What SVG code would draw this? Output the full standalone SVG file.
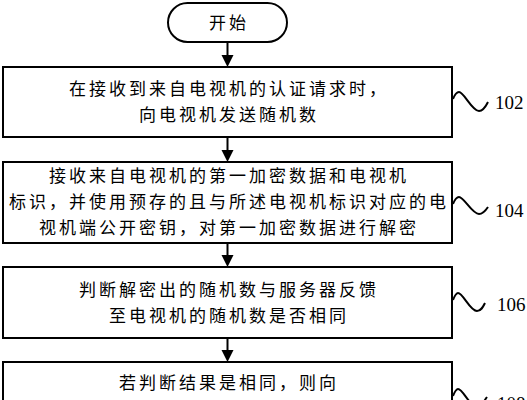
<svg xmlns="http://www.w3.org/2000/svg" width="527" height="400" viewBox="0 0 527 400">
<style>
.box{fill:#fff;stroke:#000;stroke-width:2}
.t{font-family:"Noto Sans CJK SC","Noto Sans",sans-serif;font-size:17px;letter-spacing:3px;text-anchor:middle;fill:#000}
.lbl{font-family:"Liberation Serif",serif;font-size:19px;fill:#000}
.sq{fill:none;stroke:#000;stroke-width:2}
.ln{stroke:#000;stroke-width:2}
</style>
<defs>
<polygon id="ah" points="-6,-12 6,-12 0,0" fill="#000"/>
</defs>
<rect width="527" height="400" fill="#fff"/>
<g id="connectors">
<line class="ln" x1="227.5" y1="42" x2="227.5" y2="56"/><use href="#ah" x="227.5" y="67"/>
<line class="ln" x1="227.5" y1="137" x2="227.5" y2="151"/><use href="#ah" x="227.5" y="162"/>
<line class="ln" x1="227.5" y1="243" x2="227.5" y2="256"/><use href="#ah" x="227.5" y="267"/>
<line class="ln" x1="227.5" y1="338" x2="227.5" y2="351"/><use href="#ah" x="227.5" y="362"/>
</g>
<g id="start">
<rect class="box" x="168" y="3" width="119" height="39" rx="19.5"/>
<text class="t" x="229" y="29">开始</text>
</g>
<g id="step102">
<rect class="box" x="3" y="67" width="449" height="70"/>
<text class="t" x="229" y="95">在接收到来自电视机的认证请求时，</text>
<text class="t" x="229" y="121">向电视机发送随机数</text>
<path class="sq" d="M453,99 C455,94 457,92 459,92 C464,92 472,111 479,111 C483,111 486,106 488,102"/>
<text class="lbl" x="495" y="109">102</text>
</g>
<g id="step104">
<rect class="box" x="3" y="162" width="449" height="81"/>
<text class="t" x="229" y="182">接收来自电视机的第一加密数据和电视机</text>
<text class="t" x="229" y="208">标识，并使用预存的且与所述电视机标识对应的电</text>
<text class="t" x="229" y="234">视机端公开密钥，对第一加密数据进行解密</text>
<path class="sq" d="M453,204 C455,199 457,197 459,197 C464,197 472,214 479,214 C483,214 486,210 488,207"/>
<text class="lbl" x="495" y="217">104</text>
</g>
<g id="step106">
<rect class="box" x="3" y="267" width="449" height="71"/>
<text class="t" x="229" y="296">判断解密出的随机数与服务器反馈</text>
<text class="t" x="229" y="322">至电视机的随机数是否相同</text>
<path class="sq" d="M453,300 C455,295 456,293 458,293 C463,293 470,311 477,311 C481,311 483,307 485,303"/>
<text class="lbl" x="497" y="311">106</text>
</g>
<g id="step108">
<rect class="box" x="3" y="362" width="449" height="60"/>
<text class="t" x="229" y="389">若判断结果是相同，则向</text>
<path class="sq" d="M453,396 C455,391 456,389 458,389 C463,389 470,407 477,407 C481,407 484,401 487,397"/>
<text class="lbl" x="497" y="410">108</text>
</g>
</svg>
